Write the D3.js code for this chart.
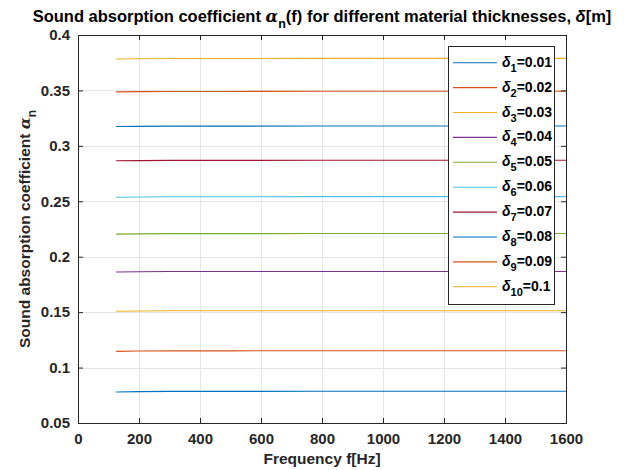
<!DOCTYPE html>
<html>
<head>
<meta charset="utf-8">
<script src="https://cdn.jsdelivr.net/npm/d3@7"></script>
<style>
	body { margin: 0; background: #fff; }
	svg text { font-family: "Liberation Sans", Arial, sans-serif; font-weight: bold; }
</style>
</head>
<body>
<div class="svg-container"></div>
<script>
(function () {

	"use strict";

	// data
	var freq 		= [ 125, 200, 300, 500, 800, 1200, 1600 ];
	var thickness 	= [ "0.01", "0.02", "0.03", "0.04", "0.05", "0.06", "0.07", "0.08", "0.09", "0.1" ];
	var alpha = [
		[ 0.0780, 0.0783, 0.0785, 0.0785, 0.0786, 0.0786, 0.0786 ],
		[ 0.1146, 0.1149, 0.1151, 0.1151, 0.1152, 0.1152, 0.1152 ],
		[ 0.1508, 0.1510, 0.1512, 0.1512, 0.1513, 0.1513, 0.1513 ],
		[ 0.1862, 0.1864, 0.1866, 0.1866, 0.1867, 0.1867, 0.1867 ],
		[ 0.2204, 0.2206, 0.2208, 0.2208, 0.2209, 0.2209, 0.2209 ],
		[ 0.2536, 0.2539, 0.2541, 0.2541, 0.2542, 0.2542, 0.2542 ],
		[ 0.2865, 0.2867, 0.2869, 0.2869, 0.2870, 0.2870, 0.2870 ],
		[ 0.3174, 0.3176, 0.3178, 0.3178, 0.3179, 0.3179, 0.3179 ],
		[ 0.3487, 0.3489, 0.3491, 0.3491, 0.3492, 0.3492, 0.3492 ],
		[ 0.3784, 0.3786, 0.3788, 0.3788, 0.3789, 0.3789, 0.3789 ]
	];
	var x_ticks = [ 0, 200, 400, 600, 800, 1000, 1200, 1400, 1600 ];
	var y_ticks = [ 0.05, 0.1, 0.15, 0.2, 0.25, 0.3, 0.35, 0.4 ];

	var colors = [ "#0072BD", "#D95319", "#EDB120", "#7E2F8E", "#77AC30", "#4DBEEE", "#A2142F" ];

	var W = 624, H = 470;
	var margin = { "top": 35, "right": 58, "bottom": 47, "left": 78 };
	var width = W - margin.left - margin.right,
		height = H - margin.top - margin.bottom;

	var svg = d3.select(".svg-container").append("svg")
		.attr("width", W)
		.attr("height", H);

	var g = svg.append("g")
		.attr("transform", "translate(" + margin.left + "," + margin.top + ")");

	var x = d3.scaleLinear().domain([0, 1600]).range([0, width]);
	var y = d3.scaleLinear().domain([0.05, 0.4]).range([height, 0]);

	// grid
	g.append("g").selectAll("line").data(x_ticks.slice(1, -1)).enter().append("line")
		.attr("x1", function (d) { return Math.round(x(d)) + .5; })
		.attr("x2", function (d) { return Math.round(x(d)) + .5; })
		.attr("y1", 0).attr("y2", height)
		.attr("stroke", "#e6e6e6").attr("stroke-width", 1);
	g.append("g").selectAll("line").data(y_ticks.slice(1, -1)).enter().append("line")
		.attr("y1", function (d) { return Math.round(y(d)) + .5; })
		.attr("y2", function (d) { return Math.round(y(d)) + .5; })
		.attr("x1", 0).attr("x2", width)
		.attr("stroke", "#e6e6e6").attr("stroke-width", 1);

	// lines
	var line = d3.line()
		.x(function (d, i) { return x(freq[i]); })
		.y(function (d) { return y(d); });

	g.append("g").selectAll("path").data(alpha).enter().append("path")
		.attr("d", line)
		.attr("fill", "none")
		.attr("stroke", function (d, i) { return colors[i % colors.length]; })
		.attr("stroke-width", 1.1);

	// axes with inward ticks
	var xAxis = d3.axisBottom(x).tickValues(x_ticks).tickSize(-5).tickPadding(10).tickFormat(d3.format("d"));
	var yAxis = d3.axisLeft(y).tickValues(y_ticks).tickSize(-5).tickPadding(8).tickFormat(function (d) { return String(+d.toFixed(2)); });

	g.append("g").attr("transform", "translate(0," + height + ")").call(xAxis);
	g.append("g").call(yAxis);
	g.append("g").attr("transform", "translate(" + width + ",0)")
		.call(d3.axisRight(y).tickValues(y_ticks).tickSize(-5).tickFormat(""));
	g.append("g")
		.call(d3.axisTop(x).tickValues(x_ticks).tickSize(-5).tickFormat(""));

	g.selectAll(".domain").attr("stroke", "#262626");
	g.selectAll(".tick line").attr("stroke", "#262626");
	g.selectAll(".tick text").attr("fill", "#262626").style("font-size", "15px");

	// title
	var title = svg.append("text")
		.attr("x", 322).attr("y", 22)
		.attr("text-anchor", "middle")
		.style("font-size", "16.5px")
		.attr("fill", "#000");
	title.append("tspan").text("Sound absorption coefficient ");
	title.append("tspan").text("α").style("font-family", "'DejaVu Serif', serif").style("font-style", "italic");
	title.append("tspan").text("n").attr("dy", 6).style("font-size", "12.5px");
	title.append("tspan").text("(f) for different material thicknesses, ").attr("dy", -6);
	title.append("tspan").text("δ").style("font-style", "italic");
	title.append("tspan").text("[m]");

	// axis labels
	svg.append("text")
		.attr("x", margin.left + width / 2).attr("y", H - 6)
		.attr("text-anchor", "middle")
		.style("font-size", "15.5px").attr("fill", "#262626")
		.text("Frequency f[Hz]");

	var ylab = svg.append("text")
		.attr("transform", "translate(30," + (margin.top + height / 2) + ") rotate(-90)")
		.attr("text-anchor", "middle")
		.style("font-size", "15.5px").attr("fill", "#262626");
	ylab.append("tspan").text("Sound absorption coefficient ");
	ylab.append("tspan").text("α").style("font-family", "'DejaVu Serif', serif").style("font-style", "italic");
	ylab.append("tspan").text("n").attr("dy", 6).style("font-size", "12px");

	// legend
	var lx = 448, ly = 46, lw = 106, lh = 258, step = 24.9;
	var legend = svg.append("g");
	legend.append("rect")
		.attr("x", lx + .5).attr("y", ly + .5)
		.attr("width", lw).attr("height", lh)
		.attr("fill", "#fff").attr("stroke", "#262626").attr("stroke-width", 1);

	var items = legend.selectAll(".item").data(thickness).enter().append("g")
		.attr("class", "item")
		.attr("transform", function (d, i) { return "translate(0," + (ly + 16.7 + i * step) + ")"; });
	items.append("line")
		.attr("x1", lx + 5).attr("x2", lx + 49)
		.attr("y1", 0).attr("y2", 0)
		.attr("stroke", function (d, i) { return colors[i % colors.length]; })
		.attr("stroke-width", 1.1);
	var lt = items.append("text")
		.attr("x", lx + 54).attr("y", 4)
		.style("font-size", "14px").attr("fill", "#000");
	lt.append("tspan").text("δ").style("font-style", "italic");
	lt.append("tspan").text(function (d, i) { return i + 1; }).attr("dy", 5).style("font-size", "11px");
	lt.append("tspan").text(function (d) { return "=" + d; }).attr("dy", -5);

})();
</script>
</body>
</html>
